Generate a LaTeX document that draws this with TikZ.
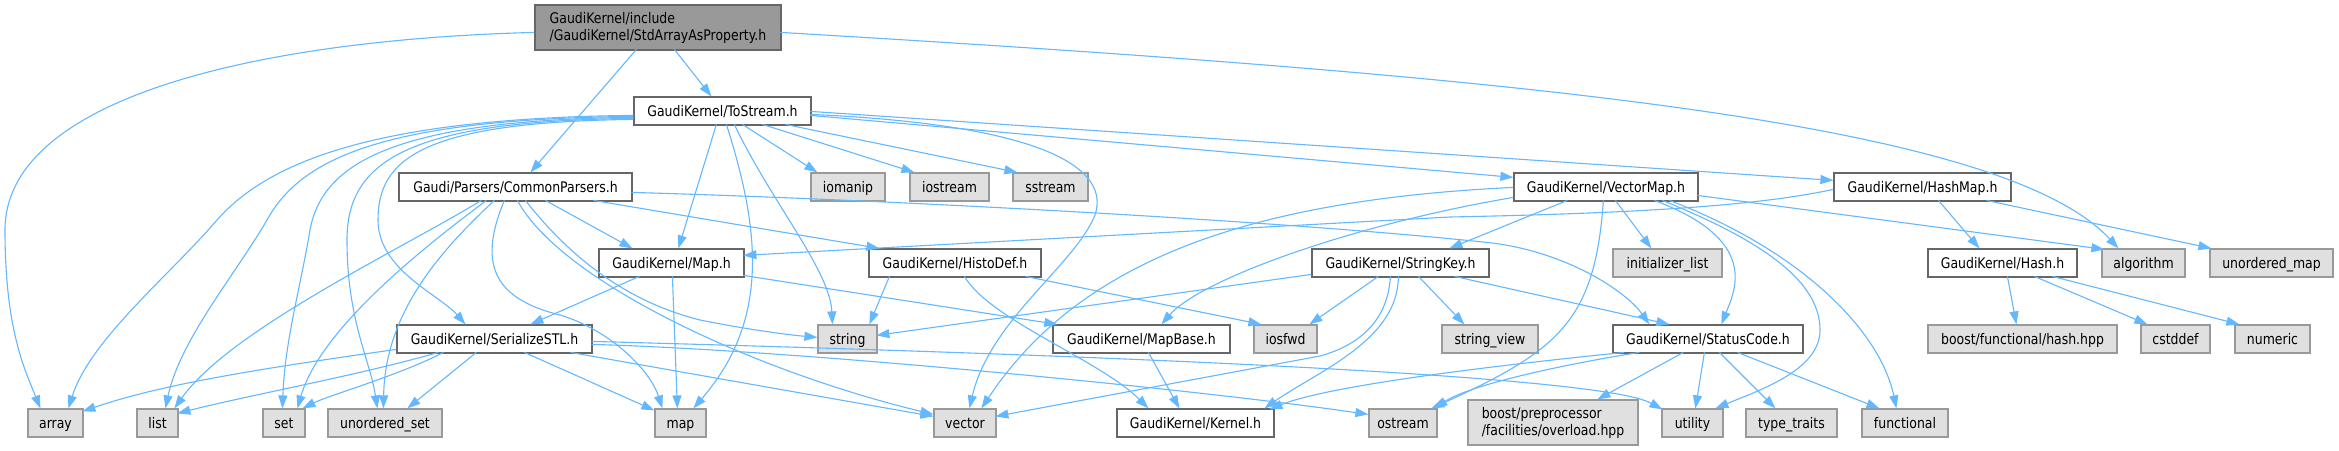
\documentclass[tikz,border=0pt]{standalone}
\usepackage{fontspec}
\setmainfont{DejaVu Sans}[FakeStretch=0.855]
\usetikzlibrary{arrows.meta}
\definecolor{edgec}{HTML}{63B8FF}
\definecolor{bdoc}{HTML}{666666}
\definecolor{bsys}{HTML}{999999}
\definecolor{fsys}{HTML}{E0E0E0}
\definecolor{froot}{HTML}{999999}
\tikzset{
  nbase/.style={rectangle, inner sep=0pt, line width=1.2bp, font=\fontsize{14.6bp}{17bp}\selectfont, text=black},
  doc/.style={nbase, draw=bdoc, fill=white, minimum height=28bp, text height=10.6bp, text depth=0pt},
  sys/.style={doc, draw=bsys, fill=fsys},
  rootbox/.style={nbase, draw=bdoc, fill=froot, minimum height=45bp, align=left},
  sysbig/.style={nbase, draw=bsys, fill=fsys, minimum height=45bp, align=left},
  conn/.style={draw=edgec, line width=1.1bp, -{Triangle[length=13bp,width=9bp]}},
}
\begin{document}
\begin{tikzpicture}[x=1bp,y=-1bp]
\fill[white] (0,0) rectangle (2339,451);
\useasboundingbox (0,0) rectangle (2339,451);
% row 1
\node[rootbox, minimum width=246bp] (root) at (658,27.5) {GaudiKernel/include\\/GaudiKernel/StdArrayAsProperty.h};
% row 2
\node[doc, minimum width=177bp] (tos) at (722.5,111) {GaudiKernel/ToStream.h};
% row 3
\node[doc, minimum width=233bp] (cp) at (515.5,187) {Gaudi/Parsers/CommonParsers.h};
\node[sys, minimum width=74bp] (iomanip) at (848,187) {iomanip};
\node[sys, minimum width=79bp] (iostream) at (949.5,187) {iostream};
\node[sys, minimum width=75bp] (sstream) at (1050.5,187) {sstream};
\node[doc, minimum width=184bp] (vmap) at (1606,187) {GaudiKernel/VectorMap.h};
\node[doc, minimum width=177bp] (hmap) at (1922.5,187) {GaudiKernel/HashMap.h};
% row 4
\node[doc, minimum width=145bp] (maph) at (671.5,263) {GaudiKernel/Map.h};
\node[doc, minimum width=172bp] (histo) at (955,263) {GaudiKernel/HistoDef.h};
\node[doc, minimum width=177bp] (skey) at (1400.5,263) {GaudiKernel/StringKey.h};
\node[sys, minimum width=109bp] (ilist) at (1667.5,263) {initializer\_list};
\node[doc, minimum width=149bp] (hash) at (2002.5,263) {GaudiKernel/Hash.h};
\node[sys, minimum width=83bp] (algo) at (2143.5,263) {algorithm};
\node[sys, minimum width=123bp] (umap) at (2271.5,263) {unordered\_map};
% row 5
\node[doc, minimum width=195bp] (sstl) at (494.5,339) {GaudiKernel/SerializeSTL.h};
\node[sys, minimum width=59bp] (string) at (847.5,339) {string};
\node[doc, minimum width=177bp] (mbase) at (1141.5,339) {GaudiKernel/MapBase.h};
\node[sys, minimum width=63bp] (iosfwd) at (1285.5,339) {iosfwd};
\node[sys, minimum width=96bp] (sview) at (1490,339) {string\_view};
\node[doc, minimum width=190bp] (scode) at (1708,339) {GaudiKernel/StatusCode.h};
\node[sys, minimum width=189bp] (bfh) at (2022.5,339) {boost/functional/hash.hpp};
\node[sys, minimum width=69bp] (cstddef) at (2175.5,339) {cstddef};
\node[sys, minimum width=75bp] (numeric) at (2272.5,339) {numeric};
% row 6
\node[sys, minimum width=55bp] (array) at (55.5,423) {array};
\node[sys, minimum width=41bp] (list) at (157.5,423) {list};
\node[sys, minimum width=42bp] (set) at (284,423) {set};
\node[sys, minimum width=114bp] (uset) at (385,423) {unordered\_set};
\node[sys, minimum width=51bp] (map) at (680.5,423) {map};
\node[sys, minimum width=62bp] (vector) at (965,423) {vector};
\node[doc, minimum width=157bp] (kernel) at (1195.5,423) {GaudiKernel/Kernel.h};
\node[sys, minimum width=68bp] (ostream) at (1403,423) {ostream};
\node[sysbig, minimum width=170bp] (bpp) at (1553,422.5) {boost/preprocessor\\/facilities/overload.hpp};
\node[sys, minimum width=61bp] (utility) at (1692.5,423) {utility};
\node[sys, minimum width=91bp] (ttraits) at (1791.5,423) {type\_traits};
\node[sys, minimum width=86bp] (functional) at (1905,423) {functional};

% ---- edges: root
\draw[conn] ([shift={(140,45)}]root.north west) -- ([shift={(78,0)}]tos.north west);
\draw[conn] ([shift={(102,45)}]root.north west) -- ([shift={(132,0)}]cp.north west);
\draw[conn] ([shift={(0,28)}]root.north west) .. controls (250,40) and (5,100) .. (5,230) .. controls (5,330) and (25,370) .. ([shift={(13,0)}]array.north west);
\draw[conn] ([shift={(246,28)}]root.north west) .. controls (1500,75) and (2000,120) .. ([shift={(17,0)}]algo.north west);

% ---- ToStream
\draw[conn] ([shift={(0,19)}]tos.north west) .. controls (380,118) and (270,160) .. (217,220) .. controls (170,275) and (90,340) .. ([shift={(41,0)}]array.north west);
\draw[conn] ([shift={(0,20)}]tos.north west) .. controls (380,119) and (300,160) .. (267,220) .. controls (235,275) and (180,340) .. ([shift={(29,0)}]list.north west);
\draw[conn] ([shift={(0,21)}]tos.north west) .. controls (390,120) and (322,165) .. (310,230) .. controls (300,290) and (285,340) .. ([shift={(20,0)}]set.north west);
\draw[conn] ([shift={(0,22)}]tos.north west) .. controls (410,121) and (347,160) .. (347,240) .. controls (347,320) and (370,360) .. ([shift={(50,0)}]uset.north west);
\draw[conn] ([shift={(0,23)}]tos.north west) .. controls (420,122) and (378,160) .. (378,220) .. controls (378,270) and (440,295) .. ([shift={(69,0)}]sstl.north west);
\draw[conn] ([shift={(83,28)}]tos.north west) -- ([shift={(80,0)}]maph.north west);
\draw[conn] ([shift={(93,28)}]tos.north west) .. controls (760,230) and (770,320) .. ([shift={(39,0)}]map.north west);
\draw[conn] ([shift={(101,28)}]tos.north west) .. controls (770,200) and (830,270) .. ([shift={(15,0)}]string.north west);
\draw[conn] ([shift={(177,18)}]tos.north west) .. controls (1050,125) and (1110,170) .. (1095,215) .. controls (1075,265) and (990,320) .. ([shift={(36,0)}]vector.north west);
\draw[conn] ([shift={(109,28)}]tos.north west) -- ([shift={(7,0)}]iomanip.north west);
\draw[conn] ([shift={(129,28)}]tos.north west) -- ([shift={(5,0)}]iostream.north west);
\draw[conn] ([shift={(152,28)}]tos.north west) -- ([shift={(5,0)}]sstream.north west);
\draw[conn] ([shift={(177,19)}]tos.north west) -- ([shift={(0,5)}]vmap.north west);
\draw[conn] ([shift={(177,15)}]tos.north west) -- ([shift={(0,8)}]hmap.north west);

% ---- CommonParsers
\draw[conn] ([shift={(83,28)}]cp.north west) .. controls (400,250) and (230,330) .. ([shift={(38,0)}]list.north west);
\draw[conn] ([shift={(88,28)}]cp.north west) .. controls (420,250) and (320,330) .. ([shift={(35,0)}]set.north west);
\draw[conn] ([shift={(96,28)}]cp.north west) .. controls (430,260) and (385,320) .. ([shift={(56,0)}]uset.north west);
\draw[conn] ([shift={(106,28)}]cp.north west) .. controls (475,270) and (500,300) .. (560,315) .. controls (610,330) and (650,370) .. ([shift={(8,0)}]map.north west);
\draw[conn] ([shift={(127,28)}]cp.north west) .. controls (580,270) and (640,305) .. (700,320) .. controls (750,330) and (790,335) .. ([shift={(0,13)}]string.north west);
\draw[conn] ([shift={(119,28)}]cp.north west) .. controls (560,280) and (750,370) .. ([shift={(0,6)}]vector.north west);
\draw[conn] ([shift={(147,28)}]cp.north west) -- ([shift={(34,0)}]maph.north west);
\draw[conn] ([shift={(195,28)}]cp.north west) -- ([shift={(11,0)}]histo.north west);
\draw[conn] ([shift={(233,20)}]cp.north west) .. controls (900,200) and (1300,222) .. (1492,243) .. controls (1565,252) and (1625,290) .. ([shift={(37,0)}]scode.north west);

% ---- Map.h
\draw[conn] ([shift={(41,28)}]maph.north west) -- ([shift={(134,0)}]sstl.north west);
\draw[conn] ([shift={(74,28)}]maph.north west) -- ([shift={(23,0)}]map.north west);
\draw[conn] ([shift={(145,27)}]maph.north west) -- ([shift={(5,0)}]mbase.north west);

% ---- SerializeSTL
\draw[conn] ([shift={(0,25)}]sstl.north west) .. controls (250,370) and (160,385) .. ([shift={(55,3)}]array.north west);
\draw[conn] ([shift={(42,28)}]sstl.north west) .. controls (360,375) and (250,395) .. ([shift={(41,5)}]list.north west);
\draw[conn] ([shift={(47,28)}]sstl.north west) .. controls (400,375) and (330,395) .. ([shift={(40,0)}]set.north west);
\draw[conn] ([shift={(80,28)}]sstl.north west) -- ([shift={(80,0)}]uset.north west);
\draw[conn] ([shift={(128,28)}]sstl.north west) -- ([shift={(0,2)}]map.north west);
\draw[conn] ([shift={(174,28)}]sstl.north west) -- ([shift={(0,8)}]vector.north west);
\draw[conn] ([shift={(195,20)}]sstl.north west) .. controls (800,350) and (1200,390) .. ([shift={(0,6)}]ostream.north west);
\draw[conn] ([shift={(195,17)}]sstl.north west) .. controls (1100,355) and (1600,375) .. ([shift={(1,1)}]utility.north west);

% ---- HistoDef
\draw[conn] ([shift={(21,28)}]histo.north west) -- ([shift={(52,0)}]string.north west);
\draw[conn] ([shift={(96,28)}]histo.north west) .. controls (990,320) and (1100,360) .. ([shift={(32,0)}]kernel.north west);
\draw[conn] ([shift={(157,28)}]histo.north west) -- ([shift={(8,0)}]iosfwd.north west);

% ---- MapBase
\draw[conn] ([shift={(96,28)}]mbase.north west) -- ([shift={(63,0)}]kernel.north west);

% ---- VectorMap
\draw[conn] ([shift={(0,15)}]vmap.north west) .. controls (1250,200) and (1080,260) .. ([shift={(48,0)}]vector.north west);
\draw[conn] ([shift={(0,25)}]vmap.north west) .. controls (1350,225) and (1200,280) .. ([shift={(109,0)}]mbase.north west);
\draw[conn] ([shift={(54,28)}]vmap.north west) -- ([shift={(138,0)}]skey.north west);
\draw[conn] ([shift={(102,28)}]vmap.north west) -- ([shift={(39,0)}]ilist.north west);
\draw[conn] ([shift={(90,28)}]vmap.north west) .. controls (1595,320) and (1560,350) .. ([shift={(63,0)}]ostream.north west);
\draw[conn] ([shift={(141,28)}]vmap.north west) .. controls (1760,240) and (1735,290) .. ([shift={(109,0)}]scode.north west);
\draw[conn] ([shift={(149,28)}]vmap.north west) .. controls (1760,240) and (1820,280) .. (1820,330) .. controls (1820,370) and (1760,390) .. ([shift={(54,0)}]utility.north west);
\draw[conn] ([shift={(156,28)}]vmap.north west) .. controls (1800,250) and (1880,330) .. ([shift={(35,0)}]functional.north west);
\draw[conn] ([shift={(184,23)}]vmap.north west) -- ([shift={(3,1)}]algo.north west);

% ---- HashMap
\draw[conn] ([shift={(0,17)}]hmap.north west) .. controls (1760,205) and (1650,213) .. (1450,217) -- ([shift={(145,7)}]maph.north west);
\draw[conn] ([shift={(105,28)}]hmap.north west) -- ([shift={(52,0)}]hash.north west);
\draw[conn] ([shift={(153,28)}]hmap.north west) -- ([shift={(2,0)}]umap.north west);

% ---- Hash
\draw[conn] ([shift={(80,28)}]hash.north west) -- ([shift={(89,0)}]bfh.north west);
\draw[conn] ([shift={(107,28)}]hash.north west) -- ([shift={(7,0)}]cstddef.north west);
\draw[conn] ([shift={(125,28)}]hash.north west) -- ([shift={(5,0)}]numeric.north west);

% ---- StringKey
\draw[conn] ([shift={(0,26)}]skey.north west) -- ([shift={(59,11)}]string.north west);
\draw[conn] ([shift={(67,28)}]skey.north west) -- ([shift={(56,0)}]iosfwd.north west);
\draw[conn] ([shift={(79,28)}]skey.north west) .. controls (1388,320) and (1360,345) .. (1320,356) -- ([shift={(62,8)}]vector.north west);
\draw[conn] ([shift={(87,28)}]skey.north west) .. controls (1398,340) and (1320,370) .. ([shift={(148,0)}]kernel.north west);
\draw[conn] ([shift={(107,28)}]skey.north west) -- ([shift={(23,0)}]sview.north west);
\draw[conn] ([shift={(143,28)}]skey.north west) -- ([shift={(57,0)}]scode.north west);

% ---- StatusCode
\draw[conn] ([shift={(12,28)}]scode.north west) .. controls (1500,365) and (1330,385) .. ([shift={(153,1)}]kernel.north west);
\draw[conn] ([shift={(27,28)}]scode.north west) .. controls (1560,365) and (1470,385) .. ([shift={(66,0)}]ostream.north west);
\draw[conn] ([shift={(71,28)}]scode.north west) -- ([shift={(130,0)}]bpp.north west);
\draw[conn] ([shift={(92,28)}]scode.north west) -- ([shift={(34,0)}]utility.north west);
\draw[conn] ([shift={(107,28)}]scode.north west) -- ([shift={(30,0)}]ttraits.north west);
\draw[conn] ([shift={(125,28)}]scode.north west) -- ([shift={(18,0)}]functional.north west);
\end{tikzpicture}
\end{document}
